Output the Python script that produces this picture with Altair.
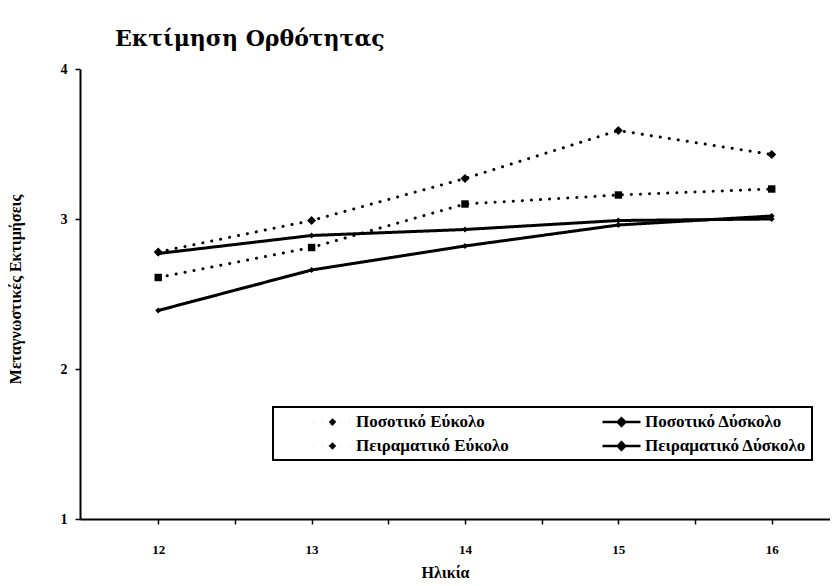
import altair as alt
import pandas as pd

ages = [12, 13, 14, 15, 16]
series_names = ["Ποσοτικό Εύκολο", "Πειραματικό Εύκολο", "Ποσοτικό Δύσκολο", "Πειραματικό Δύσκολο"]
posotiko_eykolo = [2.78, 2.99, 3.27, 3.59, 3.43]
peiramatiko_eykolo = [2.61, 2.81, 3.10, 3.16, 3.20]
posotiko_dyskolo = [2.77, 2.89, 2.93, 2.99, 3.00]
peiramatiko_dyskolo = [2.39, 2.66, 2.82, 2.96, 3.02]

values = [posotiko_eykolo, peiramatiko_eykolo, posotiko_dyskolo, peiramatiko_dyskolo]
rows = []
for name, vals in zip(series_names, values):
    for a, v in zip(ages, vals):
        rows.append({"age": a, "value": v, "series": name})
df = pd.DataFrame(rows)

FONT = "Liberation Serif"

x = alt.X("age:Q",
          scale=alt.Scale(domain=[11.49, 16.38], nice=False, zero=False),
          axis=alt.Axis(values=[12, 12.5, 13, 13.5, 14, 14.5, 15, 15.5, 16],
                        labelExpr="datum.value % 1 == 0 ? format(datum.value, 'd') : ''",
                        grid=False, domainColor="black", domainWidth=2,
                        tickColor="black", tickWidth=1.5, tickSize=5,
                        labelFont=FONT, labelFontWeight="bold", labelFontSize=13,
                        labelColor="black", labelPadding=19,
                        title="Ηλικία", titleFont=FONT, titleFontWeight="bold",
                        titleFontSize=16, titleColor="black",
                        titleX=365, titleY=53, titleBaseline="middle", titleAlign="center"))
y = alt.Y("value:Q",
          scale=alt.Scale(domain=[1, 4], nice=False, zero=False),
          axis=alt.Axis(values=[1, 2, 3, 4], grid=False, domainColor="black",
                        domainWidth=2, tickColor="black", tickWidth=1.5, tickSize=5,
                        labelFont=FONT, labelFontWeight="bold", labelFontSize=14,
                        labelColor="black", labelPadding=8,
                        title="Μεταγνωστικές Εκτιμήσεις", titleFont=FONT,
                        titleFontWeight="bold", titleFontSize=16, titleColor="black",
                        titleX=-65, titleY=220, titleAngle=270,
                        titleAlign="center", titleBaseline="middle"))

dot = [0.1, 9]
dash_scale = alt.Scale(domain=series_names, range=[dot, dot, [1, 0], [1, 0]])

legend = alt.Legend(orient="none", legendX=193, legendY=338, columns=2,
                    title=None, strokeColor="black",
                    padding=5, columnPadding=58, rowPadding=5,
                    symbolType="M3,0H7.47M4.8,0L5.235,-0.45L5.67,0L5.235,0.45Z",
                    symbolSize=289, symbolStrokeColor="black",
                    symbolFillColor="black", symbolStrokeWidth=2.5,
                    labelFont=FONT, labelFontWeight="bold", labelFontSize=17,
                    labelOffset=58,
                    labelColor="black", labelLimit=300, fillColor="white")

base = alt.Chart(df)
lines = base.mark_line(color="black", strokeWidth=3, strokeCap="round").encode(
    x=x, y=y,
    strokeDash=alt.StrokeDash("series:N", scale=dash_scale, legend=legend),
    order="age:Q",
)
pts_big = base.transform_filter(
    alt.datum.series == series_names[0]
).mark_point(filled=True, color="black", opacity=1, shape="diamond", size=80).encode(x=x, y=y)
pts_square = base.transform_filter(
    alt.datum.series == series_names[1]
).mark_point(filled=True, color="black", opacity=1, shape="square", size=55).encode(x=x, y=y)
pts_small = base.transform_filter(
    (alt.datum.series == series_names[2]) | (alt.datum.series == series_names[3])
).mark_point(filled=True, color="black", opacity=1, shape="diamond", size=35).encode(x=x, y=y)

chart = alt.layer(lines, pts_big, pts_square, pts_small).properties(
    width=750, height=450,
    title=alt.TitleParams("Εκτίμηση Ορθότητας", anchor="start", dx=108, offset=11,
                          font="DejaVu Serif", fontSize=22, fontWeight="bold",
                          color="black"),
    autosize=alt.AutoSizeParams(type="none"),
    padding={"left": 72, "top": 61, "right": 0, "bottom": 70},
).configure_view(stroke=None).configure_legend(strokeWidth=2)

chart.save("out.html", embed_options={"renderer": "svg", "actions": False})
